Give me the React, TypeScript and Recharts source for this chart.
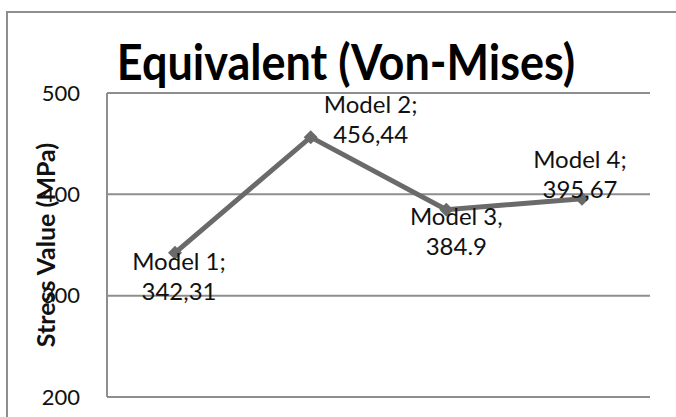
import React from 'react';
import { LineChart, Line, XAxis, YAxis, CartesianGrid, LabelList } from 'recharts';

const models = ['Model 1', 'Model 2', 'Model 3', 'Model 4'];
const stress = [342.31, 456.44, 384.9, 395.67];
const nameLabels = ['Model 1;', 'Model 2;', 'Model 3,', 'Model 4;'];
const valueLabels = ['342,31', '456,44', '384.9', '395,67'];
const yTicks = [200, 300, 400, 500];

const data = models.map((m, i) => ({ name: m, value: stress[i] }));

// where each label block sits relative to its point (centre x, first baseline)
const labelShift = [
  { dx: 4, dy: 17 },
  { dx: 60, dy: -24 },
  { dx: 10, dy: 15 },
  { dx: -2, dy: -31 },
];

const FONT = 'Lato, "Open Sans", sans-serif';
const GRID = '#8e8e8e';

const Diamond = (props: any) => {
  const { cx, cy } = props;
  if (cx == null || cy == null) return null;
  const s = 7;
  return (
    <path
      d={`M${cx},${cy - s} L${cx + s},${cy} L${cx},${cy + s} L${cx - s},${cy} Z`}
      fill="#6a6a6a"
    />
  );
};

const PointLabel = (props: any) => {
  const { x, y, index } = props;
  const sh = labelShift[index];
  const cx = x + sh.dx;
  const by = y + sh.dy;
  return (
    <text textAnchor="middle" fontFamily={FONT} fontSize={24} fill="#111">
      <tspan x={cx} y={by}>{nameLabels[index]}</tspan>
      <tspan x={cx} y={by + 30}>{valueLabels[index]}</tspan>
    </text>
  );
};

export default function App() {
  return (
    <div
      style={{
        position: 'absolute',
        left: 0,
        top: 0,
        width: 676,
        height: 417,
        overflow: 'hidden',
        background: '#fff',
      }}
    >
      <div
        style={{
          position: 'absolute',
          left: 6,
          top: 11,
          width: 720,
          height: 500,
          border: `2px solid ${GRID}`,
        }}
      />
      <svg width={676} height={417} style={{ position: 'absolute', left: 0, top: 0 }}>
        <text
          transform="translate(346,80) scale(0.9,1)"
          textAnchor="middle"
          fontFamily={FONT}
          fontWeight={700}
          fontSize={50}
          fill="#000"
        >
          Equivalent (Von-Mises)
        </text>
      </svg>
      <div style={{ position: 'absolute', left: 0, top: 0 }}>
        <LineChart
          width={676}
          height={417}
          data={data}
          margin={{ top: 93, right: 26, bottom: 20, left: 0 }}
        >
          <CartesianGrid vertical={false} stroke={GRID} strokeWidth={2} />
          <XAxis dataKey="name" hide padding={{ left: 68, right: 68 }} />
          <YAxis
            width={107}
            domain={[200, 500]}
            ticks={yTicks}
            interval={0}
            axisLine={{ stroke: GRID, strokeWidth: 2 }}
            tickLine={false}
            tickMargin={21}
            tick={{ fontFamily: FONT, fontSize: 22, fill: '#111' }}
            label={{
              value: 'Stress Value (MPa)',
              angle: -90,
              position: 'insideLeft',
              offset: 0,
              dx: 46,
              dy: 0,
              style: { fontFamily: FONT, fontWeight: 700, fontSize: 25, fill: '#111', textAnchor: 'middle' },
            }}
          />
          <Line
            dataKey="value"
            stroke="#6a6a6a"
            strokeWidth={5}
            dot={<Diamond />}
            activeDot={false}
            isAnimationActive={false}
          >
            <LabelList dataKey="value" content={<PointLabel />} />
          </Line>
        </LineChart>
      </div>
    </div>
  );
}
